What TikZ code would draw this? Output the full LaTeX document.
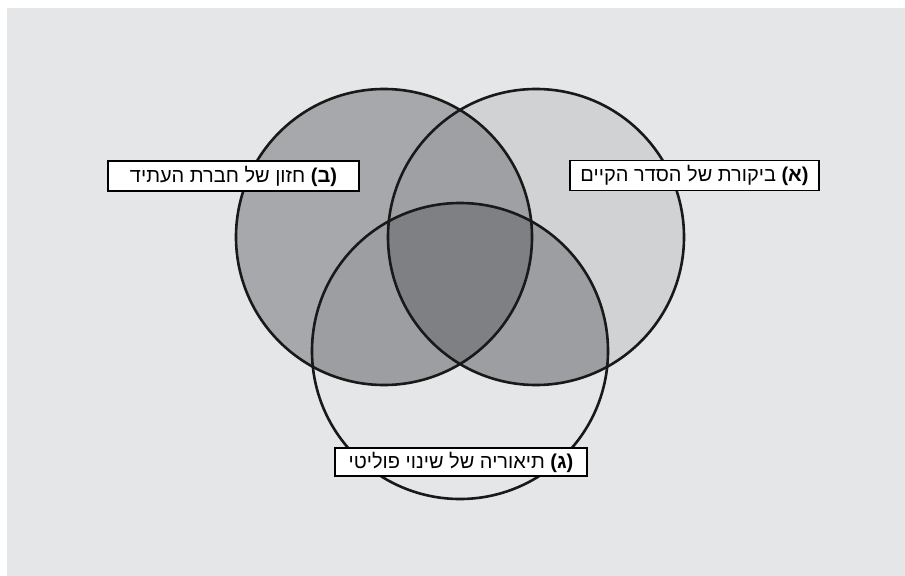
\documentclass[tikz,border=0pt]{standalone}
\usepackage{fontspec}
\setmainfont{Liberation Sans}
\newfontfamily\hebfont[Script=Hebrew]{Liberation Sans}
\TeXXeTstate=1
\definecolor{bg}{HTML}{E5E6E8}
\definecolor{colA}{HTML}{D1D2D4}
\definecolor{colB}{HTML}{A7A8AC}
\definecolor{colAB}{HTML}{9FA0A4}
\definecolor{colBG}{HTML}{9D9EA2}
\definecolor{colAG}{HTML}{9D9EA2}
\definecolor{colABG}{HTML}{7F8084}
\tikzset{
  ring/.style={draw=black!90, line width=2.6bp},
  lab/.style={draw=black, fill=white, line width=1.2bp, inner sep=0pt,
    minimum height=30bp, font=\hebfont\fontsize{20bp}{24bp}\selectfont}
}
\begin{document}
\begin{tikzpicture}[x=1bp,y=-1bp]
\useasboundingbox (0,0) rectangle (905,576);
\fill[white] (0,0) rectangle (905,576);
\fill[bg] (7,8) rectangle (905,576);
\coordinate (cA) at (536,237);
\coordinate (cB) at (384,237);
\coordinate (cG) at (460,351);
\def\R{148bp}
\fill[colB] (cB) circle[radius=\R];
\fill[colA] (cA) circle[radius=\R];
\begin{scope}
  \clip (cA) circle[radius=\R];
  \fill[colAB] (cB) circle[radius=\R];
  \fill[colAG] (cG) circle[radius=\R];
\end{scope}
\begin{scope}
  \clip (cB) circle[radius=\R];
  \fill[colBG] (cG) circle[radius=\R];
\end{scope}
\begin{scope}
  \clip (cA) circle[radius=\R];
  \clip (cB) circle[radius=\R];
  \fill[colABG] (cG) circle[radius=\R];
\end{scope}
\draw[ring] (cB) circle[radius=\R];
\draw[ring] (cA) circle[radius=\R];
\draw[ring] (cG) circle[radius=\R];
\node[lab, minimum width=251bp] (labB) at (233.5,176) {\beginR{\bfseries (ב)} חזון של חברת העתיד\endR};
\node[lab, minimum width=249bp] (labA) at (694.5,175.5) {\beginR{\bfseries (א)} ביקורת של הסדר הקיים\endR};
\node[lab, minimum width=252bp, minimum height=28bp] (labG) at (461,462) {\beginR{\bfseries (ג)} תיאוריה של שינוי פוליטי\endR};
\end{tikzpicture}
\end{document}
